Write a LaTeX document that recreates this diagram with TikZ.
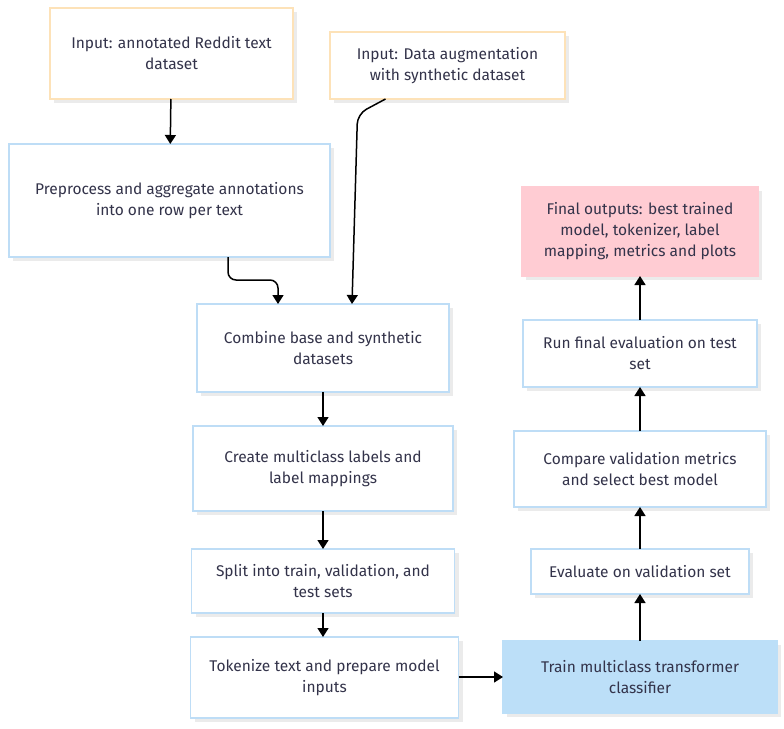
\documentclass[tikz,border=0pt]{standalone}
\usepackage{fontspec}
\setmainfont{Fira Sans}
\usepackage{xcolor}
\usepackage{tikz}
\usetikzlibrary{arrows.meta, positioning, shadows}
\definecolor{ink}{HTML}{33334A}
\definecolor{inborder}{HTML}{FDE2B8}
\definecolor{stepborder}{HTML}{BEDDF6}
\definecolor{trainfill}{HTML}{BCDFF8}
\definecolor{outfill}{HTML}{FFCCD3}
\definecolor{shade}{HTML}{EBEBEB}
\tikzset{
  box/.style={rectangle, align=center, text=ink, line width=1.6pt, inner sep=0pt, outer sep=0pt,
    font=\fontsize{15.5}{21}\selectfont,
    drop shadow={shadow xshift=4pt, shadow yshift=-4pt, fill=shade, opacity=1}},
  inputbox/.style={box, draw=inborder, fill=white},
  stepbox/.style={box, draw=stepborder, fill=white},
  trainbox/.style={box, draw=trainfill, fill=trainfill},
  outputbox/.style={box, draw=outfill, fill=outfill},
  arrow/.style={line width=1.5pt, -{Triangle[length=9pt, width=11pt]}}
}
\begin{document}
\begin{tikzpicture}[x=1pt, y=-1pt]
\useasboundingbox (0,0) rectangle (784,728);
\node[inputbox, minimum width=243pt, minimum height=91pt] (reddit) at (171.5,53.5) {Input: annotated Reddit text\\dataset};
\node[inputbox, minimum width=235pt, minimum height=67pt] (augment) at (447.5,65.5) {Input: Data augmentation\\with synthetic dataset};
\node[stepbox, minimum width=321pt, minimum height=113pt] (preprocess) at (169.5,200.5) {Preprocess and aggregate annotations\\into one row per text};
\node[stepbox, minimum width=252pt, minimum height=88pt] (combine) at (323,348) {Combine base and synthetic\\datasets};
\node[stepbox, minimum width=260pt, minimum height=85pt, below=34pt of combine] (labels) {Create multiclass labels and\\label mappings};
\node[stepbox, minimum width=263pt, minimum height=64pt, below=38pt of labels] (split) {Split into train, validation, and\\test sets};
\node[stepbox, minimum width=268pt, minimum height=81pt, below=24pt of split, xshift=1.5pt] (tokenize) {Tokenize text and prepare model\\inputs};
\node[trainbox, minimum width=274pt, minimum height=72pt] (train) at (640,677) {Train multiclass transformer\\classifier};
\node[stepbox, minimum width=218pt, minimum height=45pt, above=47pt of train] (evaluate) {Evaluate on validation set};
\node[stepbox, minimum width=252pt, minimum height=76pt, above=42pt of evaluate] (compare) {Compare validation metrics\\and select best model};
\node[stepbox, minimum width=234pt, minimum height=67pt, above=44pt of compare] (finaleval) {Run final evaluation on test\\set};
\node[outputbox, minimum width=236pt, minimum height=89pt, above=44pt of finaleval] (outputs) {Final outputs: best trained\\model, tokenizer, label\\mapping, metrics and plots};

\draw[arrow] (reddit) -- (preprocess);
\draw[arrow, rounded corners=8pt] ([xshift=58.5pt]preprocess.south) -- ++(0,23) -| ([xshift=-45pt]combine.north);
\draw[arrow, rounded corners=10pt] ([xshift=-62pt]augment.south) -- ++(-28,15) -- ([xshift=29pt]combine.north);
\draw[arrow] (combine) -- (labels);
\draw[arrow] (labels) -- (split);
\draw[arrow] (split.south) -- (split.south |- tokenize.north);
\draw[arrow] (tokenize.east |- train.west) -- (train.west);
\draw[arrow] (train) -- (evaluate);
\draw[arrow] (evaluate) -- (compare);
\draw[arrow] (compare) -- (finaleval);
\draw[arrow] (finaleval) -- (outputs);
\end{tikzpicture}
\end{document}
